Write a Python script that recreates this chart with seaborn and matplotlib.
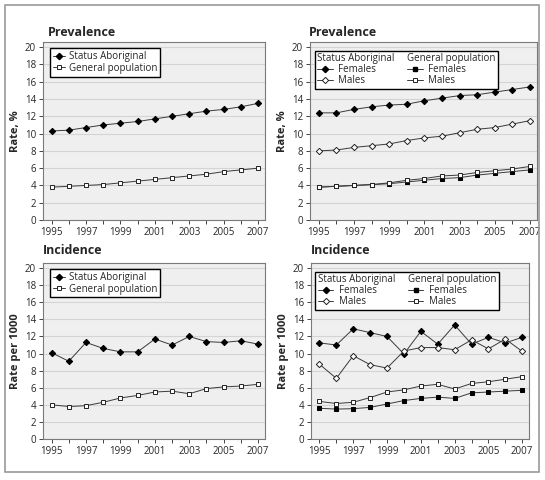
import matplotlib
matplotlib.use("Agg")
import matplotlib.pyplot as plt
import seaborn as sns
import pandas as pd
from matplotlib.lines import Line2D
from matplotlib.patches import Rectangle
from matplotlib.ticker import MultipleLocator

# -------------------------------
# Data
# -------------------------------
years = list(range(1995, 2008))

prev_aboriginal = [10.3, 10.4, 10.7, 11.0, 11.2, 11.4, 11.7, 12.0, 12.3, 12.6, 12.8, 13.1, 13.5]
prev_general = [3.8, 3.9, 4.0, 4.1, 4.3, 4.5, 4.7, 4.9, 5.1, 5.3, 5.6, 5.8, 6.0]

prev_abo_females = [12.4, 12.4, 12.8, 13.1, 13.3, 13.4, 13.8, 14.1, 14.4, 14.5, 14.8, 15.1, 15.4]
prev_abo_males = [8.0, 8.1, 8.4, 8.6, 8.8, 9.2, 9.5, 9.7, 10.1, 10.5, 10.7, 11.1, 11.5]
prev_gen_females = [3.8, 3.9, 4.0, 4.1, 4.2, 4.4, 4.6, 4.8, 4.9, 5.2, 5.4, 5.6, 5.8]
prev_gen_males = [3.8, 3.9, 4.0, 4.1, 4.3, 4.6, 4.8, 5.1, 5.2, 5.5, 5.7, 5.9, 6.2]

inc_aboriginal = [10.1, 9.1, 11.3, 10.6, 10.2, 10.2, 11.7, 11.0, 12.0, 11.4, 11.3, 11.5, 11.1]
inc_general = [4.0, 3.8, 3.9, 4.3, 4.8, 5.1, 5.5, 5.6, 5.3, 5.9, 6.1, 6.2, 6.4]

inc_abo_females = [11.25, 11.0, 12.9, 12.45, 12.0, 9.95, 12.6, 11.1, 13.35, 11.1, 11.9, 11.25, 11.9]
inc_abo_males = [8.75, 7.1, 9.75, 8.7, 8.3, 10.3, 10.7, 10.7, 10.45, 11.6, 10.55, 11.7, 10.25]
inc_gen_females = [3.6, 3.5, 3.55, 3.7, 4.1, 4.5, 4.75, 4.9, 4.75, 5.4, 5.5, 5.6, 5.7]
inc_gen_males = [4.4, 4.15, 4.3, 4.85, 5.5, 5.75, 6.2, 6.4, 5.85, 6.5, 6.7, 7.0, 7.3]

# -------------------------------
# Style
# -------------------------------
sns.set_style("white")
plt.rcParams["font.family"] = ["Open Sans", "DejaVu Sans"]

LINE = "#3a3a3a"
STYLES = {
    "filled_diamond": dict(marker="D", markersize=3.2, markerfacecolor="black", markeredgecolor="black"),
    "open_diamond": dict(marker="D", markersize=3.2, markerfacecolor="white", markeredgecolor="#222222", markeredgewidth=0.7),
    "filled_square": dict(marker="s", markersize=3.4, markerfacecolor="black", markeredgecolor="black"),
    "open_square": dict(marker="s", markersize=3.4, markerfacecolor="white", markeredgecolor="#222222", markeredgewidth=0.7),
}


def draw_series(ax, values, style):
    df = pd.DataFrame({"year": years, "rate": values})
    sns.lineplot(data=df, x="year", y="rate", ax=ax, color=LINE, linewidth=0.7,
                 **STYLES[style])


def handle(style):
    return Line2D([0], [0], color=LINE, linewidth=0.7, **STYLES[style])


def format_axes(ax, ylabel):
    ax.set_facecolor("#efefef")
    ax.set_xlim(1994.5, 2007.4)
    ax.set_ylim(0, 20.6)
    ax.yaxis.set_major_locator(MultipleLocator(2))
    ax.xaxis.set_major_locator(MultipleLocator(2, offset=1))
    ax.xaxis.set_minor_locator(MultipleLocator(1))
    ax.grid(axis="y", color="#d4d4d4", linewidth=0.8)
    ax.set_axisbelow(True)
    for s in ax.spines.values():
        s.set_color("#7a7a7a")
        s.set_linewidth(0.8)
    ax.tick_params(axis="both", which="both", direction="out", length=3, width=0.7,
                   color="#444444", labelsize=7, pad=2, bottom=True, left=True)
    ax.set_xlabel("")
    ax.set_ylabel(ylabel, fontsize=8, fontweight="bold", labelpad=3)


def simple_legend(ax):
    ax.legend([handle("filled_diamond"), handle("open_square")],
              ["Status Aboriginal", "General population"],
              loc="upper left", bbox_to_anchor=(0.03, 0.965), fontsize=7,
              frameon=True, fancybox=False, edgecolor="black", framealpha=1,
              handlelength=1.3, handletextpad=0.4, borderpad=0.3, labelspacing=0.05,
              borderaxespad=0)


def group_legend(ax):
    blank = Line2D([0], [0], linestyle="none")
    handles = [blank, handle("filled_diamond"), handle("open_diamond"),
               blank, handle("filled_square"), handle("open_square")]
    labels = ["Status Aboriginal", "Females", "Males",
              "General population", "Females", "Males"]
    leg = ax.legend(handles, labels, ncol=2, loc="upper left", bbox_to_anchor=(0.02, 0.95),
                    fontsize=7, frameon=True, fancybox=False, edgecolor="black",
                    framealpha=1, handlelength=1.6, handletextpad=0.6, borderpad=0.25,
                    labelspacing=0.0, columnspacing=1.3, borderaxespad=0)
    # pull the header rows to the left edge of each column
    for column in leg._legend_handle_box.get_children():
        header = column.get_children()[0]
        kids = header.get_children()
        del kids[0]


# -------------------------------
# Figure
# -------------------------------
fig = plt.figure(figsize=(5.45, 4.8), dpi=100)
W, H = 545, 480


def add_axes(left, top, right, bottom):
    return fig.add_axes([left / W, 1 - bottom / H, (right - left) / W, (bottom - top) / H])


ax1 = add_axes(43, 42, 265, 220)
ax2 = add_axes(310, 42, 537, 220)
ax3 = add_axes(43, 263, 265, 439)
ax4 = add_axes(311, 263, 529, 439)

draw_series(ax1, prev_aboriginal, "filled_diamond")
draw_series(ax1, prev_general, "open_square")
format_axes(ax1, "Rate, %")
simple_legend(ax1)

draw_series(ax2, prev_abo_females, "filled_diamond")
draw_series(ax2, prev_abo_males, "open_diamond")
draw_series(ax2, prev_gen_females, "filled_square")
draw_series(ax2, prev_gen_males, "open_square")
format_axes(ax2, "Rate, %")
group_legend(ax2)

draw_series(ax3, inc_aboriginal, "filled_diamond")
draw_series(ax3, inc_general, "open_square")
format_axes(ax3, "Rate per 1000")
simple_legend(ax3)

draw_series(ax4, inc_abo_females, "filled_diamond")
draw_series(ax4, inc_abo_males, "open_diamond")
draw_series(ax4, inc_gen_females, "filled_square")
draw_series(ax4, inc_gen_males, "open_square")
format_axes(ax4, "Rate per 1000")
group_legend(ax4)

# panel titles
for x, y, txt in [(48, 32, "Prevalence"), (309, 32, "Prevalence"),
                  (43, 251, "Incidence"), (311, 251, "Incidence")]:
    fig.text(x / W, 1 - y / H, txt, fontsize=9, fontweight="bold", va="center", ha="left")

# outer frame
fig.patches.append(Rectangle((5 / W, 1 - 472 / H), 534 / W, 467 / H, transform=fig.transFigure,
                             fill=False, edgecolor="#9a9a9a", linewidth=1.2))

fig.savefig("out.png", dpi=100)
